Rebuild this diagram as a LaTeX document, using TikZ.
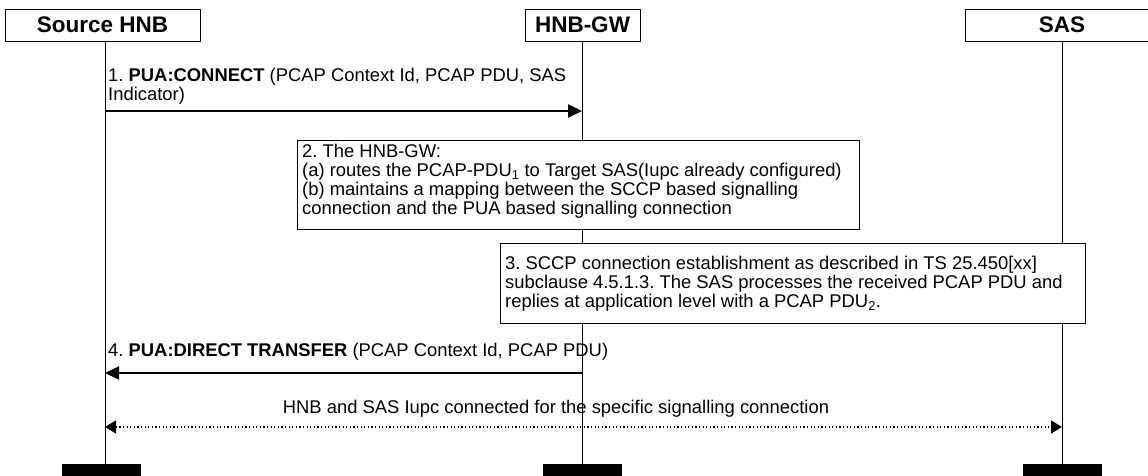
\documentclass[tikz,border=0pt]{standalone}
\usepackage{fontspec}
\setmainfont{Liberation Sans}
\usetikzlibrary{arrows.meta}
\frenchspacing
\begin{document}
\begin{tikzpicture}[x=1pt,y=-1pt,
  headbox/.style={draw,line width=0.9pt,minimum height=32.5pt,inner sep=0pt,font=\fontsize{22.5}{24}\selectfont\bfseries},
  lifeline/.style={line width=0.9pt},
  endbar/.style={fill=black,minimum width=79pt,minimum height=12pt,inner sep=0pt},
  msg/.style={line width=2pt,-{Triangle[length=14pt,width=13pt]}},
  bodytext/.style={anchor=north west,inner sep=0pt,align=left,font=\fontsize{18.4}{19.2}\selectfont},
  notebox/.style={draw,line width=0.9pt,fill=white,anchor=north west,inner sep=0pt},
  dotarrow/.style={line width=1.2pt,dash pattern=on 1.2pt off 2.4pt,{Triangle[length=11pt,width=13pt]}-{Triangle[length=11pt,width=13pt]}}
]
\useasboundingbox (0,0) rectangle (1148,476);
% heads
\node[headbox,minimum width=195pt] (src) at (102.5,25.25) {Source HNB};
\node[headbox,minimum width=115pt] (gw) at (582.5,25.25) {HNB-GW};
\node[headbox,minimum width=194pt] (sas) at (1062,25.25) {SAS};
% bars
\node[endbar] (srcbar) at (101.5,470) {};
\node[endbar] (gwbar) at (582,470) {};
\node[endbar] (sasbar) at (1062.5,470) {};
% lifelines
\coordinate (srctop) at (105,41.5);
\coordinate (srcbot) at (105,464);
\coordinate (gwtop) at (582,41.5);
\coordinate (gwbot) at (582,464);
\coordinate (sastop) at (1062,41.5);
\coordinate (sasbot) at (1062,464);
\draw[lifeline] (srctop) -- (srcbot);
\draw[lifeline] (gwtop) -- (gwbot);
\draw[lifeline] (sastop) -- (sasbot);
% message 1
\coordinate (m1s) at (105,111);
\coordinate (m1e) at (582,111);
\node[bodytext] (t1) at (108,68) {1. \textbf{PUA:CONNECT} (PCAP Context Id, PCAP PDU, SAS\\Indicator)};
\draw[msg] (m1s) -- (m1e);
% box 2
\node[notebox,minimum width=562pt,minimum height=89pt] (b2) at (297,140) {};
\node[bodytext] (b2t) at (302,143.5) {2. The HNB-GW:\\(a) routes the PCAP-PDU\textsubscript{1} to Target SAS(Iupc already configured)\\(b) maintains a mapping between the SCCP based signalling\\connection and the PUA based signalling connection};
% box 3
\node[notebox,minimum width=585pt,minimum height=80pt] (b3) at (500,243) {};
\node[bodytext] (b3t) at (505,255.5) {3. SCCP connection establishment as described in TS 25.450[xx]\\subclause 4.5.1.3. The SAS processes the received PCAP PDU and\\replies at application level with a PCAP PDU\textsubscript{2}.};
% message 4
\coordinate (m4s) at (582,373);
\coordinate (m4e) at (105,373);
\node[bodytext] (t4) at (108,342.5) {4. \textbf{PUA:DIRECT TRANSFER} (PCAP Context Id, PCAP PDU)};
\draw[msg] (m4s) -- (m4e);
% dotted
\coordinate (d1) at (105,427);
\coordinate (d2) at (1062,427);
\node[font=\fontsize{18.4}{19}\selectfont,inner sep=0pt,anchor=base] (t5) at (556,413.5) {HNB and SAS Iupc connected for the specific signalling connection};
\draw[dotarrow] (d1) -- (d2);
\end{tikzpicture}
\end{document}
